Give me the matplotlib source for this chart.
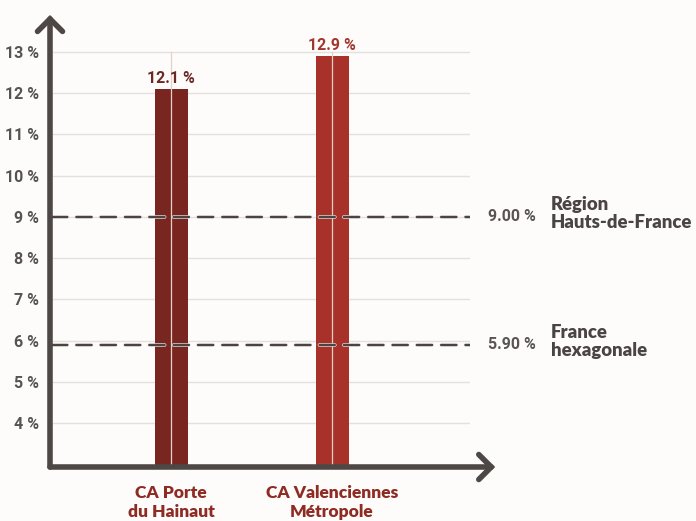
import matplotlib
matplotlib.use("Agg")
import matplotlib.pyplot as plt
import matplotlib.patheffects as pe
from matplotlib.transforms import blended_transform_factory

# ---- data ----
categories = ["CA Porte\ndu Hainaut", "CA Valenciennes\nMétropole"]
values = [12.1, 12.9]
value_labels = ["12.1 %", "12.9 %"]
ref_values = [9.00, 5.90]
ref_value_labels = ["9.00 %", "5.90 %"]
ref_names = ["Région\nHauts-de-France", "France\nhexagonale"]
yticks = [4, 5, 6, 7, 8, 9, 10, 11, 12, 13]
ytick_labels = ["4 %", "5 %", "6 %", "7 %", "8 %", "9 %", "10 %", "11 %", "12 %", "13 %"]

# ---- style ----
bg = "#fdfcfa"
bar_colors = ["#7a2620", "#a8322a"]
label_colors = ["#6e2824", "#a3372e"]
cat_color = "#8e2c24"
axis_color = "#4d4846"
grid_color = "#e4e0dc"
num_font = ["Roboto", "DejaVu Sans"]
txt_font = ["Lato", "DejaVu Sans"]

fig = plt.figure(figsize=(6.96, 5.21), dpi=100, facecolor=bg)
W, H = 696, 521
left, right, bottom, top = 50, 470, 467, 15
ax = fig.add_axes([left / W, (H - bottom) / H, (right - left) / W, (bottom - top) / H])
ax.set_facecolor(bg)

x = list(range(len(categories)))
ax.set_xlim(-0.752, 1.857)
ax.set_ylim(2.93, 13.9)

# grid
for t in yticks:
    ax.plot([-0.74, 1.857], [t, t], color=grid_color, lw=1.0, zorder=1, solid_capstyle="butt")

# bars
ax.bar(x, values, width=0.205, bottom=0, color=bar_colors, zorder=2)
for xi in x:
    ax.plot([xi, xi], [2.93, 13], color="#e6cfc8", lw=0.9, zorder=3)

for xi, v, lab, c in zip(x, values, value_labels, label_colors):
    ax.annotate(lab, (xi, v), xytext=(0, 2.5), textcoords="offset points",
                ha="center", va="bottom", fontsize=11.5, fontweight="bold",
                family=num_font, color=c, zorder=5)

# reference lines
bt = blended_transform_factory(ax.transAxes, ax.transData)
for rv, rl, rn in zip(ref_values, ref_value_labels, ref_names):
    ax.plot([-0.74, 1.857], [rv, rv], color="#4a4544", lw=1.7, dashes=(6.5, 3.8),
            zorder=4, dash_capstyle="round",
            path_effects=[pe.Stroke(linewidth=2.6, foreground="#f0e6e2"), pe.Normal()])
    ax.text(1.043, rv, rl, transform=bt, ha="left", va="center", fontsize=11.5,
            family=num_font, fontweight="bold", color="#5a5452", clip_on=False)
    ax.text(1.193, rv + 0.08, rn, transform=bt, ha="left", va="center", fontsize=13.3,
            family=txt_font, fontweight="heavy", color="#4a4443", linespacing=1.1,
            clip_on=False)

# axes / ticks
for s in ax.spines.values():
    s.set_visible(False)
ax.set_yticks(yticks)
ax.set_yticklabels(ytick_labels, family=num_font, fontweight="bold", fontsize=11.5, color="#585250")
ax.tick_params(axis="y", length=0, pad=8)
ax.set_xticks(x)
ax.set_xticklabels(categories, family=txt_font, fontweight="heavy", fontsize=12.5,
                   color=cat_color, linespacing=1.2)
ax.tick_params(axis="x", length=0, pad=13)

# arrow axes
ax.annotate("", xy=(0, 1.0), xytext=(0, 0), xycoords="axes fraction",
            arrowprops=dict(arrowstyle="->,head_length=0.45,head_width=0.45",
                            lw=4, color=axis_color, mutation_scale=20,
                            shrinkA=0, shrinkB=0, capstyle="round", joinstyle="miter"),
            annotation_clip=False, zorder=6)
ax.annotate("", xy=(1.06, 0), xytext=(0, 0), xycoords="axes fraction",
            arrowprops=dict(arrowstyle="->,head_length=0.45,head_width=0.45",
                            lw=4, color=axis_color, mutation_scale=20,
                            shrinkA=0, shrinkB=0, capstyle="round", joinstyle="miter"),
            annotation_clip=False, zorder=6)

fig.savefig("out.png", dpi=100, facecolor=bg)
